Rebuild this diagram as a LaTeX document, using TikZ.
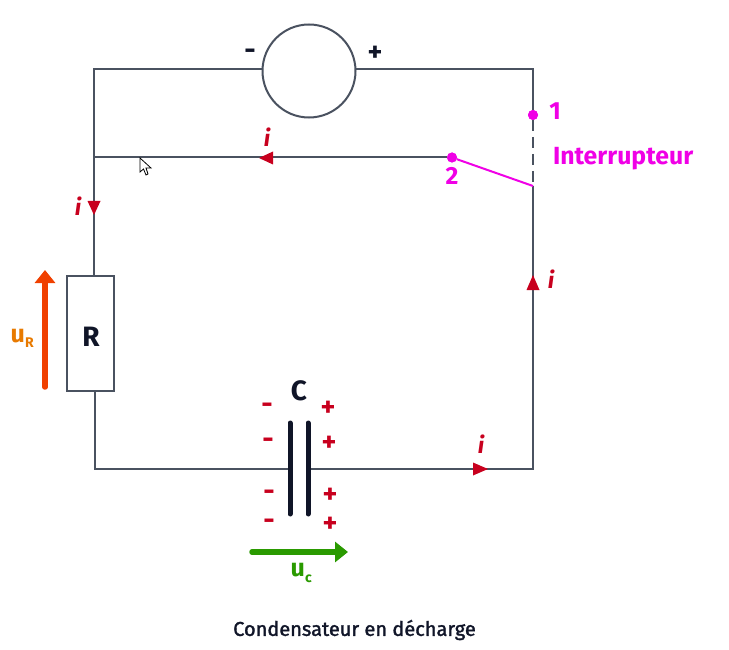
\documentclass[tikz,border=0pt]{standalone}
\usepackage{fontspec}
\setmainfont{Fira Sans}
\newfontfamily\capfont[FakeBold=1.6]{Fira Sans}
\usetikzlibrary{arrows.meta}
\definecolor{wire}{HTML}{4A5260}
\definecolor{ink}{HTML}{101528}
\definecolor{redi}{HTML}{C8001E}
\definecolor{magen}{HTML}{F000E6}
\definecolor{orng}{HTML}{E87A00}
\definecolor{orar}{HTML}{F04000}
\definecolor{grn}{HTML}{2A9A00}
\tikzset{
  x=1pt,y=-1pt,
  every node/.style={inner sep=0pt,outer sep=0pt},
  wireline/.style={draw=wire,line width=2pt},
  curarrow/.style={fill=redi,draw=none},
  curlabel/.style={text=redi,font=\bfseries\itshape\fontsize{23}{23}\selectfont},
  sign/.style={text=redi,font=\bfseries\fontsize{28}{28}\selectfont},
  maglabel/.style={text=magen,font=\bfseries\fontsize{24.8}{25}\selectfont},
  inklabel/.style={text=ink,font=\bfseries\fontsize{28}{28}\selectfont},
  dotsw/.style={circle,fill=magen,minimum size=10pt},
  plate/.style={draw=ink,line width=5pt,line cap=round},
  bigarrow/.style={line width=5.5pt,line cap=round,-{Triangle[length=13pt,width=20pt]}},
}
\begin{document}
\begin{tikzpicture}
\useasboundingbox (0,0) rectangle (729,650);
\fill[white] (0,0) rectangle (729,650);
% anchors
\coordinate (tl) at (94,69);
\coordinate (tr) at (533,69);
\coordinate (jn) at (94,157.5);
\coordinate (pivot) at (533,186);
\coordinate (bl) at (95,468.5);
\coordinate (br) at (533,468.5);
\node[draw=wire,line width=2pt,fill=white,circle,minimum size=93pt] (gen) at (309,71) {};
\node[draw=wire,line width=2pt,fill=white,minimum width=47pt,minimum height=115pt] (res) at (90.5,333) {};
\node[inklabel] (rlab) at (91,337) {R};
\node[dotsw] (sw1) at (533,115) {};
\node[dotsw] (sw2) at (452,157.5) {};
\coordinate (capl) at (290,468.5);
\coordinate (capr) at (308,468.5);
\coordinate (p1t) at (290,423);
\coordinate (p1b) at (290,514);
\coordinate (p2t) at (308,423);
\coordinate (p2b) at (308,514);
% wires
\draw[wireline] (gen.west |- tl) -- (tl) -- (res.north -| tl);
\draw[wireline] (gen.east |- tr) -- (tr) -- (sw1);
\draw[wireline] (jn) -- (sw2);
\draw[wireline,dash pattern=on 11pt off 6pt] (sw1) -- (pivot);
\draw[wireline] (pivot) -- (br) -- (capr);
\draw[wireline] (res.south -| bl) -- (bl) -- (capl);
\draw[magen,line width=2pt] (sw2) -- (pivot);
\node[dotsw] (sw1b) at (sw1) {};
\node[dotsw] (sw2b) at (sw2) {};
% capacitor
\draw[plate] (p1t) -- (p1b);
\draw[plate] (p2t) -- (p2b);
% current arrows
\fill[curarrow] (259,158) -- (273,151.5) -- (273,164.5) -- cycle;
\fill[curarrow] (87.5,201) -- (100.5,201) -- (94,215) -- cycle;
\fill[curarrow] (533,275) -- (539.5,290) -- (526.5,290) -- cycle;
\fill[curarrow] (488,469) -- (473,462.5) -- (473,475.5) -- cycle;
% labels
\node[curlabel] (i1) at (267,137) {i};
\node[curlabel] (i2) at (78,206) {i};
\node[curlabel] (i3) at (551,279) {i};
\node[curlabel] (i4) at (481,444) {i};
\node[inklabel] (minus) at (250,54) {-};
\node[inklabel] (plus) at (375,54) {+};
\node[inklabel] (clab) at (299,391) {C};
\node[maglabel] (n1) at (555,111) {1};
\node[maglabel] (n2) at (452,176) {2};
\node[maglabel,anchor=west] (intr) at (553,159) {Interrupteur};
\node[sign] (m1) at (267,408) {-};
\node[sign] (m2) at (268,443) {-};
\node[sign] (m3) at (269,495) {-};
\node[sign] (m4) at (269,524) {-};
\node[sign] (p1) at (328,409) {+};
\node[sign] (p2) at (329,444) {+};
\node[sign] (p3) at (330,496) {+};
\node[sign] (p4) at (330,525) {+};
% tension arrows
\coordinate (ua) at (45,387);
\coordinate (ub) at (45,270);
\draw[bigarrow,orar] (ua) -- (ub);
\coordinate (uca) at (252,552);
\coordinate (ucb) at (348,552);
\draw[bigarrow,grn] (uca) -- (ucb);
\node[text=orng,font=\bfseries\fontsize{25}{25}\selectfont,anchor=base west] (ur) at (10.5,342) {u};
\node[text=orng,font=\bfseries\fontsize{14}{14}\selectfont,anchor=base west] (urs) at (25,347) {R};
\node[text=grn,font=\bfseries\fontsize{25}{25}\selectfont,anchor=base west] (uc) at (290.5,576) {u};
\node[text=grn,font=\bfseries\fontsize{14}{14}\selectfont,anchor=base west] (ucs) at (305,582) {c};
\node[text=ink,font=\capfont\fontsize{20}{20}\selectfont] (cap) at (354.5,630) {Condensateur en décharge};
% mouse cursor
\draw[black,line width=.8pt,fill=white] (140,158) -- (140,172) -- (143.5,169) -- (146,175) -- (148,174) -- (146,168) -- (151,168) -- cycle;
\end{tikzpicture}
\end{document}
